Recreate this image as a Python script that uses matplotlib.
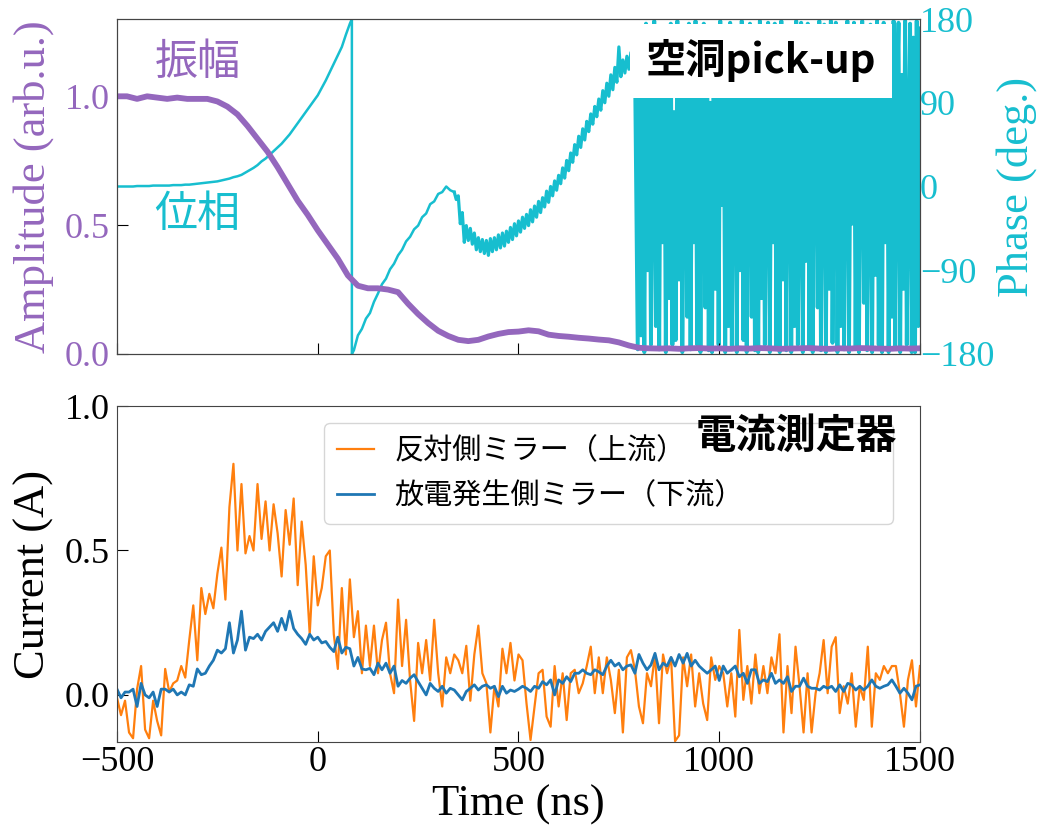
import numpy as np
import matplotlib
matplotlib.use("Agg")
import matplotlib.pyplot as plt

plt.rcParams['font.family'] = ['Liberation Serif', 'DejaVu Sans']
plt.rcParams['axes.unicode_minus'] = True
plt.rcParams['path.simplify'] = False

cjk = ['Noto Sans CJK JP', 'DejaVu Sans']

# --- top panel: cavity pick-up ---
amp_t = np.arange(-500, 1501, 25)
amp = [1.00, 1.00, 0.99, 1.00, 0.995, 0.99, 0.995, 0.99, 0.99, 0.99,
       0.98, 0.96, 0.93, 0.885, 0.835, 0.785, 0.725, 0.66, 0.595, 0.54,
       0.48, 0.425, 0.37, 0.305, 0.265, 0.255, 0.255, 0.25, 0.24, 0.195,
       0.155, 0.12, 0.09, 0.07, 0.055, 0.05, 0.055, 0.068, 0.078, 0.085,
       0.087, 0.092, 0.088, 0.075, 0.07, 0.067, 0.063, 0.06, 0.056, 0.053,
       0.045, 0.033, 0.024, 0.022, 0.021, 0.022, 0.020, 0.022, 0.023, 0.021,
       0.022, 0.020, 0.022, 0.021, 0.023, 0.022, 0.020, 0.021, 0.022, 0.023,
       0.021, 0.020, 0.022, 0.021, 0.023, 0.022, 0.021, 0.020, 0.022, 0.021,
       0.022]

# phase before the wrap (-500..80 ns, 10 ns step)
ph1_t = np.arange(-500, 81, 10)
ph1 = [0, 0, 0, 0, 0, 0.5, 0.5, 0.5, 0.5, 1, 1, 1, 1, 1, 1.5, 1.5, 1.5, 2, 2, 2.5, 3,
       3.5, 4, 4.5, 5, 5.5, 6.5, 7.5, 8.5, 10, 11, 12.5, 15, 17.5, 20, 23, 27, 30, 34,
       38, 42, 46, 51, 56, 62, 68, 74, 80, 86, 92, 98, 106, 114, 123, 132, 141, 150,
       163, 175]
# wrap at 85 ns
wrap_t = [85, 85]
wrap = [180, -180]
# after the wrap (90..330 ns, 10 ns step)
ph2_t = np.arange(90, 331, 10)
ph2 = [-176, -160, -153, -142, -136, -124, -115, -105, -99, -89, -83, -74, -68,
       -59, -54, -46, -42, -33, -29, -19, -16, -8, -6, 0, -4]
# noisier part (340..790 ns, 5 ns step)
ph3_t = np.arange(340, 791, 5)
ph3 = [-6, -14, -10, -40, -28, -60, -42, -58, -45, -62, -50, -68, -55, -70, -57,
       -72, -58, -74, -56, -70, -55, -68, -52, -66, -50, -64, -48, -60, -44, -57,
       -40, -53, -37, -49, -33, -45, -30, -42, -25, -38, -21, -33, -16, -28, -12,
       -22, -5, -17, 0, -10, 6, -4, 12, 3, 20, 9, 28, 17, 36, 26, 45, 34, 54, 42,
       62, 50, 70, 59, 78, 67, 86, 75, 94, 82, 103, 90, 111, 97, 120, 104, 128,
       112, 150, 118, 136, 122, 140, 126, 144, 130, 140]

# phase once the amplitude has died away (no signal)
phase_noise = [-175, 170, -160, 120, -178, 175, -90, 160, -170, 40, 178, -150, 100, -175,
               150, -60, 170, -178, 130, -120, 175, -170, 80, -165, 178, -100, 160, -178,
               20, 170, -140, 175, -175, 110, -60, 178, -170, 150, -178, 60, 175, -130,
               168, -176, 90, -178, 172, -110, 140, -170, 178, -20, 165, -178, 120, -150,
               176, -175, 70, 170, -178, 135, -90, 178, -165, 155, -178, 30, 175, -140,
               172, -176, 95, -178, 178, -120, 160, -170, 50, 176, -178, 145, -60, 175,
               -172, 110, -178, 178, -100, 168, -176, 80, 172, -178, 140, -150, 178, -170,
               10, 176, -178, 125, -80, 175, -175, 160, -178, 100, 170, -130, 178, -176,
               60, 174, -178, 150, -110, 178, -168, 40, 176, -178, 130, -150, 172, -175,
               90, 178, -178, 115, -40, 176, -172, 160, -178, 70, 178, -125, 170, -176,
               20, 174, -178, 140, -95, 178, -170, 100, -178, 176, -60, 168, -178, 150,
               -140, 178, -174, 85, 176, -178, 120, -110, 178, -170, 45, 175, -178, 160,
               -178, 178, -150, 170]
noise_t = np.linspace(797, 1500, len(phase_noise))

# --- bottom panel: current monitors ---
cur_t = np.arange(-500, 1501, 10)
upstream = [
    -0.01, -0.07, -0.02, -0.13, -0.15, 0.02, 0.10, -0.12, -0.15, -0.02,
    -0.09, -0.14, 0.09, 0.01, 0.04, 0.05, 0.10, 0.06, 0.19, 0.31,
    0.12, 0.37, 0.28, 0.35, 0.30, 0.42, 0.51, 0.33, 0.65, 0.80,
    0.50, 0.73, 0.49, 0.55, 0.50, 0.73, 0.54, 0.67, 0.50, 0.66,
    0.56, 0.41, 0.64, 0.52, 0.68, 0.38, 0.60, 0.45, 0.21, 0.48,
    0.31, 0.37, 0.48, 0.50, 0.21, 0.09, 0.37, 0.14, 0.40, 0.20,
    0.29, 0.075, 0.24, 0.10, 0.24, 0.075, 0.19, 0.25, 0.075, 0.006,
    0.33, 0.10, 0.26, 0.05, -0.09, 0.18, 0.075, 0.19, 0.05, 0.26,
    0.075, -0.04, 0.13, 0.075, 0.14, 0.12, 0.075, 0.17, -0.02, 0.14,
    0.24, 0.075, 0.04, -0.13, 0.03, -0.04, 0.16, 0.075, 0.18, 0.05,
    0.14, 0.12, -0.03, -0.156, -0.04, 0.075, 0.087, -0.075, -0.11, 0.10,
    -0.04, 0.075, -0.087, 0.075, 0.087, 0.006, 0.04, 0.10, 0.167, 0.006,
    0.13, 0.006, 0.13, 0.052, -0.063, 0.087, -0.13, 0.13, 0.155, 0.087,
    -0.04, -0.098, 0.075, 0.03, 0.14, -0.098, 0.14, 0.075, 0.13, -0.16,
    -0.14, 0.13, 0.03, 0.14, -0.04, 0.075, -0.03, -0.087, 0.13, 0.052,
    0.10, 0.075, -0.04, 0.075, -0.075, 0.225, -0.017, 0.10, -0.03, 0.14,
    0.006, 0.10, 0.006, 0.13, 0.075, 0.21, -0.13, 0.10, -0.063, 0.167,
    0.03, -0.13, 0.075, -0.13, 0.006, 0.075, 0.19, 0.006, 0.167, 0.20,
    -0.063, 0.03, -0.03, 0.075, -0.11, 0.03, -0.017, 0.167, -0.11, 0.075,
    0.052, 0.10, 0.075, 0.10, 0.10, 0.006, -0.11, 0.052, 0.12, -0.04,
    0.10]
downstream = [
    0.02, -0.01, 0.01, 0.01, 0.02, -0.04, 0.04, 0.0, -0.01, 0.01,
    -0.04, 0.02, 0.02, 0.01, 0.02, 0.0, 0.01, 0.0, 0.035, 0.03,
    0.09, 0.07, 0.075, 0.10, 0.12, 0.155, 0.145, 0.16, 0.25, 0.145,
    0.19, 0.29, 0.155, 0.20, 0.195, 0.21, 0.19, 0.22, 0.235, 0.25,
    0.22, 0.265, 0.225, 0.29, 0.23, 0.21, 0.195, 0.175, 0.21, 0.19,
    0.20, 0.18, 0.185, 0.165, 0.15, 0.20, 0.145, 0.165, 0.16, 0.10,
    0.13, 0.09, 0.087, 0.092, 0.07, 0.11, 0.087, 0.11, 0.075, 0.10,
    0.03, 0.05, 0.04, 0.058, 0.07, 0.046, 0.023, 0.0, 0.04, 0.023,
    0.012, 0.03, 0.006, 0.023, 0.017, 0.0, -0.017, 0.012, 0.023, 0.035,
    0.017, 0.03, 0.035, 0.023, 0.03, -0.006, 0.03, 0.006, 0.017, 0.012,
    0.02, 0.03, 0.023, 0.012, 0.03, 0.023, 0.046, 0.035, 0.052, 0.0,
    0.052, 0.04, 0.063, 0.046, 0.075, 0.075, 0.087, 0.075, 0.07, 0.087,
    0.08, 0.07, 0.10, 0.12, 0.10, 0.11, 0.087, 0.10, 0.104, 0.075,
    0.14, 0.11, 0.087, 0.104, 0.144, 0.087, 0.11, 0.10, 0.13, 0.10,
    0.14, 0.11, 0.144, 0.10, 0.12, 0.10, 0.087, 0.075, 0.087, 0.10,
    0.05, 0.10, 0.075, 0.087, 0.10, 0.063, 0.075, 0.04, 0.087, 0.087,
    0.04, 0.052, 0.046, 0.075, 0.04, 0.052, 0.04, 0.063, 0.012, 0.03,
    0.03, 0.058, 0.03, 0.023, 0.023, 0.017, 0.03, 0.023, 0.03, 0.012,
    0.035, 0.012, 0.04, 0.035, 0.017, 0.03, 0.017, 0.03, 0.052, 0.03,
    0.023, 0.03, 0.035, 0.052, 0.03, 0.006, 0.023, 0.006, -0.017, 0.03,
    0.035]

c_amp = '#9467bd'
c_phase = '#17becf'
spine_c = '#444444'

fig = plt.figure(figsize=(10.56, 8.30), dpi=100)
ax1 = fig.add_axes([0.1108, 0.5735, 0.7604, 0.4036])
ax2 = ax1.twinx()
ax1.set_zorder(ax2.get_zorder() + 1)
ax1.patch.set_visible(False)

# smooth part + wrap
ax2.plot(np.concatenate([ph1_t, wrap_t, ph2_t, ph3_t[:1]]), ph1 + wrap + ph2 + ph3[:1],
         color=c_phase, lw=1.8)
# noisy rising part
ax2.plot(ph3_t, ph3, color=c_phase, lw=2.3)
# pure noise after the amplitude is gone
ax2.plot(np.concatenate([ph3_t[-1:], noise_t]), ph3[-1:] + phase_noise,
         color=c_phase, lw=2.8)
ax1.plot(amp_t, amp, color=c_amp, lw=4.2, solid_joinstyle='round')

ax1.set_xlim(-500, 1500)
ax1.set_ylim(0, 1.3)
ax2.set_ylim(-180, 180)
ax1.set_xticks([-500, 0, 500, 1000, 1500])
ax1.set_xticklabels([])
ax1.set_yticks([0.0, 0.5, 1.0])
ax2.set_yticks([-180, -90, 0, 90, 180])
ax1.tick_params(axis='x', direction='in', length=8)
ax1.tick_params(axis='y', direction='in', length=8, labelsize=26,
                colors=c_amp, pad=5)
ax1.tick_params(axis='y', color='black')
ax2.tick_params(axis='y', direction='in', length=8, labelsize=26,
                colors=c_phase, pad=0)
ax1.set_ylabel('Amplitude (arb.u.)', fontsize=32, color=c_amp)
ax1.yaxis.set_label_coords(-0.078, 0.5)
ax2.set_ylabel('Phase (deg.)', fontsize=32, color=c_phase)
ax2.yaxis.set_label_coords(1.095, 0.5)
for ax in (ax1, ax2):
    for s in ax.spines.values():
        s.set_color(spine_c)

ax1.text(0.10, 0.87, '振幅', transform=ax1.transAxes, fontsize=31,
         color=c_amp, family=cjk, ha='center', va='center')
ax1.text(0.10, 0.415, '位相', transform=ax1.transAxes, fontsize=31,
         color=c_phase, family=cjk, ha='center', va='center')
ax1.text(0.802, 0.875, '空洞pick-up', transform=ax1.transAxes, fontsize=29,
         fontweight='bold', family=cjk, ha='center', va='center',
         bbox=dict(facecolor='white', edgecolor='none', pad=11), zorder=10)

# bottom panel
ax3 = fig.add_axes([0.1108, 0.106, 0.7604, 0.4048])
ax3.plot(cur_t, upstream, color='#ff7f0e', lw=1.6, label='反対側ミラー（上流）')
ax3.plot(cur_t, downstream, color='#1f77b4', lw=2.0, label='放電発生側ミラー（下流）')
ax3.set_xlim(-500, 1500)
ax3.set_ylim(-0.163, 1.0)
ax3.set_xticks([-500, 0, 500, 1000, 1500])
ax3.set_yticks([0.0, 0.5, 1.0])
ax3.tick_params(direction='in', length=8, labelsize=26)
ax3.tick_params(axis='y', pad=5)
ax3.tick_params(axis='x', pad=3)
ax3.set_xlabel('Time (ns)', fontsize=32)
ax3.set_ylabel('Current (A)', fontsize=32)
ax3.yaxis.set_label_coords(-0.078, 0.5)
for s in ax3.spines.values():
    s.set_color(spine_c)

leg = ax3.legend(loc='upper left', bbox_to_anchor=(0.258, 0.616, 0.708, 0.333),
                 mode='expand', borderaxespad=0, prop={'family': cjk, 'size': 21},
                 handlelength=1.25, handletextpad=0.7, borderpad=0.45)
ax3.text(0.846, 0.91, '電流測定器', transform=ax3.transAxes, fontsize=29,
         fontweight='bold', family=cjk, ha='center', va='center', zorder=10)

fig.savefig('out.png', dpi=100)
